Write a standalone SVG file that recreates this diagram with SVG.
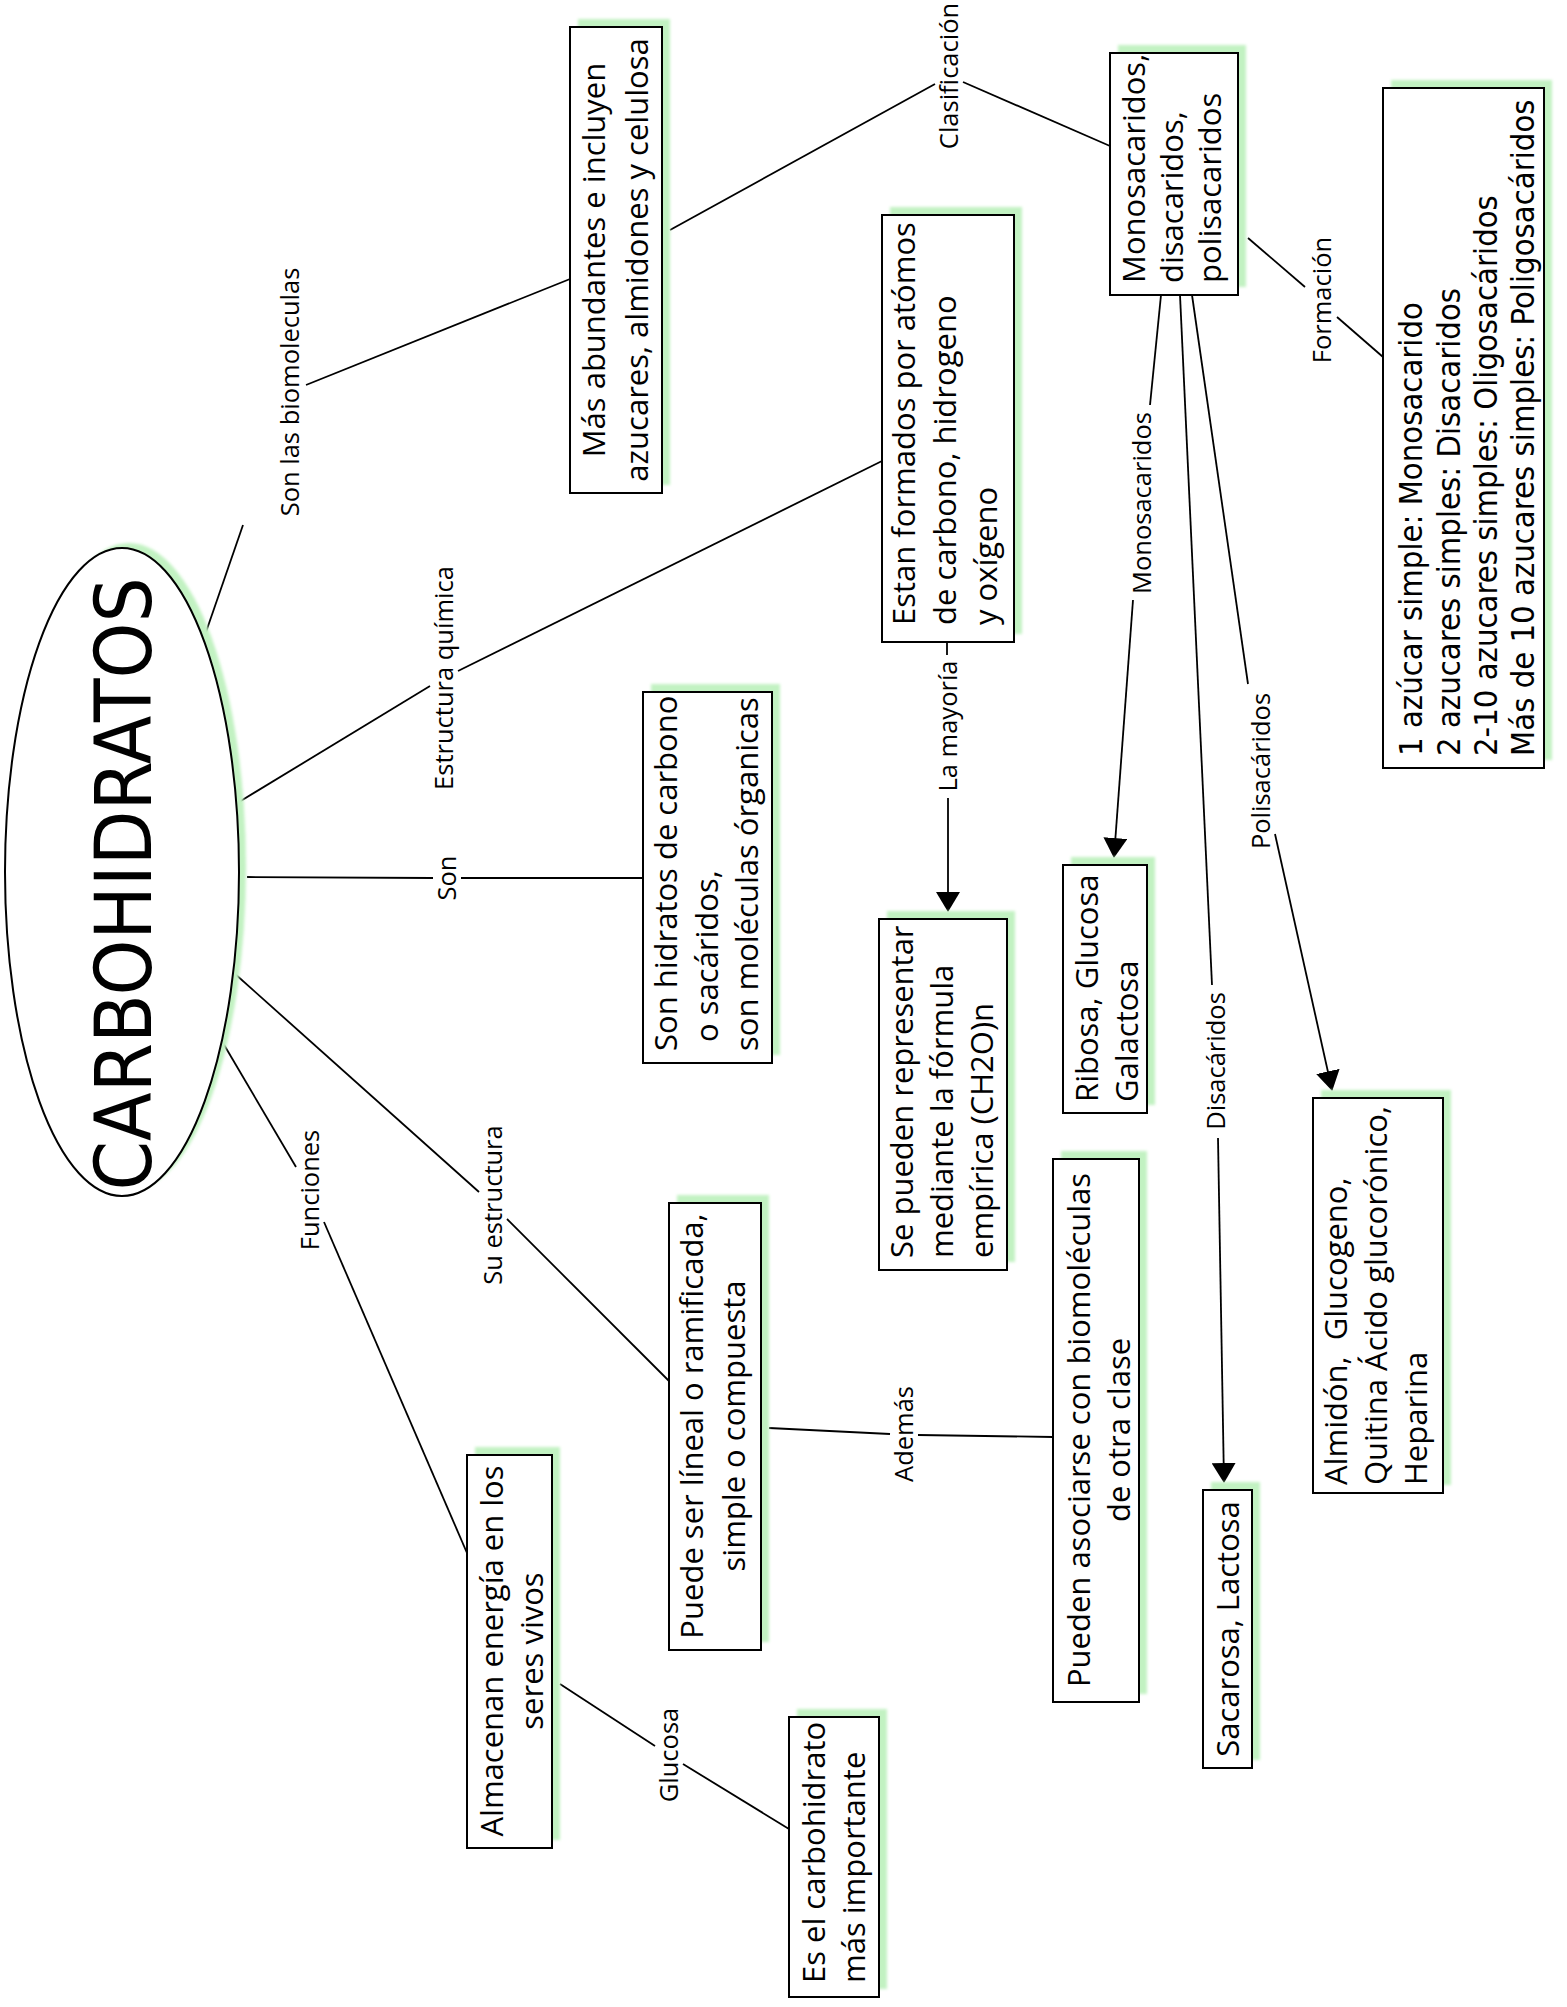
<svg xmlns="http://www.w3.org/2000/svg" width="1567" height="2007" viewBox="0 0 1567 2007">
<defs>
<filter id="soft" x="-10%" y="-10%" width="120%" height="120%"><feGaussianBlur stdDeviation="1.5"/></filter>
<marker id="arrow" markerUnits="userSpaceOnUse" markerWidth="20" markerHeight="24" viewBox="0 0 20 24" refX="19" refY="12" orient="auto"><path d="M0,0 L20,12 L0,24 z" fill="#000"/></marker>
</defs>
<style>
.box{fill:#fff;stroke:#000;stroke-width:2}
.sh{fill:#c2f2c2;filter:url(#soft)}
.t{font-family:"Open Sans","Noto Sans","Liberation Sans",sans-serif;font-size:31px;fill:#000}
.f{font-family:"DejaVu Sans Condensed","DejaVu Sans","Liberation Sans",sans-serif;font-size:32.5px;fill:#000}
.lb{font-family:"Open Sans","Noto Sans","Liberation Sans",sans-serif;font-size:25.5px;fill:#000}
.cn line{stroke:#000;stroke-width:1.8;fill:none}
.ar{marker-end:url(#arrow)}
</style>
<rect width="1567" height="2007" fill="#fff"/>

<g id="connectors" class="cn">
<line x1="206" y1="632" x2="243" y2="525"/>
<line x1="306" y1="385" x2="570" y2="279"/>
<line x1="670" y1="230" x2="935" y2="84"/>
<line x1="963" y1="82" x2="1110" y2="146"/>
<line x1="239" y1="802" x2="430" y2="686"/>
<line x1="458" y1="671" x2="882" y2="461"/>
<line x1="247" y1="877" x2="433" y2="878"/>
<line x1="461" y1="878" x2="643" y2="878"/>
<line x1="234" y1="973" x2="479" y2="1192"/>
<line x1="507" y1="1219" x2="669" y2="1381"/>
<line x1="223" y1="1043" x2="296" y2="1167"/>
<line x1="324" y1="1222" x2="467" y2="1553"/>
<line x1="769" y1="1428" x2="890" y2="1434"/>
<line x1="918" y1="1435" x2="1053" y2="1437"/>
<line x1="560" y1="1684" x2="655" y2="1746"/>
<line x1="683" y1="1764" x2="789" y2="1829"/>
<line x1="947" y1="642" x2="947" y2="655"/>
<line class="ar" x1="948" y1="798" x2="948" y2="911"/>
<line x1="1161" y1="295" x2="1150" y2="405"/>
<line class="ar" x1="1133" y1="600" x2="1114" y2="857"/>
<line x1="1180" y1="295" x2="1212" y2="985"/>
<line class="ar" x1="1218" y1="1138" x2="1224" y2="1482"/>
<line x1="1192" y1="295" x2="1248" y2="684"/>
<line class="ar" x1="1275" y1="834" x2="1332" y2="1090"/>
<line x1="1248" y1="238" x2="1305" y2="287"/>
<line x1="1337" y1="317" x2="1383" y2="357"/>
</g>

<g id="labels" class="lb">
<text transform="translate(299,392) rotate(-90)" text-anchor="middle">Son las biomoleculas</text>
<text transform="translate(958,76) rotate(-90)" text-anchor="middle">Clasificación</text>
<text transform="translate(453,678) rotate(-90)" text-anchor="middle">Estructura química</text>
<text transform="translate(456,878) rotate(-90)" text-anchor="middle">Son</text>
<text transform="translate(502,1205) rotate(-90)" text-anchor="middle">Su estructura</text>
<text transform="translate(319,1190) rotate(-90)" text-anchor="middle">Funciones</text>
<text transform="translate(913,1434) rotate(-90)" text-anchor="middle">Además</text>
<text transform="translate(678,1755) rotate(-90)" text-anchor="middle">Glucosa</text>
<text transform="translate(957,726) rotate(-90)" text-anchor="middle">La mayoría</text>
<text transform="translate(1151,503) rotate(-90)" text-anchor="middle">Monosacaridos</text>
<text transform="translate(1225,1061) rotate(-90)" text-anchor="middle">Disacáridos</text>
<text transform="translate(1270,771) rotate(-90)" text-anchor="middle">Polisacáridos</text>
<text transform="translate(1331,300) rotate(-90)" text-anchor="middle">Formación</text>
</g>

<g id="carbohidratos">
<ellipse class="sh" cx="129" cy="867" rx="117" ry="324"/>
<ellipse cx="122" cy="872" rx="117" ry="324" fill="#fff" stroke="#000" stroke-width="2"/>
<text transform="translate(151,884) rotate(-90)" text-anchor="middle" style="font-family:'DejaVu Sans Condensed','DejaVu Sans',sans-serif;font-size:79px">CARBOHIDRATOS</text>
</g>

<g id="n-abundantes">
<rect class="sh" x="578" y="19" width="92" height="466"/>
<rect class="box" x="570" y="27" width="92" height="466"/>
<text class="t" transform="translate(605,260) rotate(-90)" text-anchor="middle"><tspan x="0" y="0">Más abundantes e incluyen</tspan><tspan x="0" y="43">azucares, almidones y celulosa</tspan></text>
</g>

<g id="n-formados">
<rect class="sh" x="890" y="207" width="132" height="427"/>
<rect class="box" x="882" y="215" width="132" height="427"/>
<text class="t" transform="translate(915,625) rotate(-90)"><tspan x="0" y="0">Estan formados por atómos</tspan><tspan x="0" y="41">de carbono, hidrogeno</tspan><tspan x="0" y="82">y oxígeno</tspan></text>
</g>

<g id="n-hidratos">
<rect class="sh" x="651" y="684" width="129" height="371"/>
<rect class="box" x="643" y="692" width="129" height="371"/>
<text class="t" transform="translate(677,1051) rotate(-90)"><tspan x="0" y="0">Son hidratos de carbono</tspan><tspan x="9" y="41">o sacáridos,</tspan><tspan x="0" y="81">son moléculas órganicas</tspan></text>
</g>

<g id="n-formula">
<rect class="sh" x="887" y="911" width="128" height="351"/>
<rect class="box" x="879" y="919" width="128" height="351"/>
<text class="t" transform="translate(913,1258) rotate(-90)"><tspan x="0" y="0">Se pueden representar</tspan><tspan x="0" y="40">mediante la fórmula</tspan><tspan x="0" y="80">empírica (CH2O)n</tspan></text>
</g>

<g id="n-ribosa">
<rect class="sh" x="1071" y="857" width="84" height="248"/>
<rect class="box" x="1063" y="865" width="84" height="248"/>
<text class="t" transform="translate(1098,1102) rotate(-90)"><tspan x="0" y="0">Ribosa, Glucosa</tspan><tspan x="0" y="40">Galactosa</tspan></text>
</g>

<g id="n-asociarse">
<rect class="sh" x="1061" y="1151" width="86" height="543"/>
<rect class="box" x="1053" y="1159" width="86" height="543"/>
<text class="t" transform="translate(1090,1430) rotate(-90)" text-anchor="middle"><tspan x="0" y="0">Pueden asociarse con biomoléculas</tspan><tspan x="0" y="40">de otra clase</tspan></text>
</g>

<g id="n-lineal">
<rect class="sh" x="677" y="1195" width="92" height="447"/>
<rect class="box" x="669" y="1203" width="92" height="447"/>
<text class="t" transform="translate(703,1426) rotate(-90)" text-anchor="middle"><tspan x="0" y="0">Puede ser líneal o ramificada,</tspan><tspan x="0" y="42">simple o compuesta</tspan></text>
</g>

<g id="n-almacenan">
<rect class="sh" x="475" y="1447" width="85" height="393"/>
<rect class="box" x="467" y="1455" width="85" height="393"/>
<text class="t" transform="translate(503,1651) rotate(-90)" text-anchor="middle"><tspan x="0" y="0">Almacenan energía en los</tspan><tspan x="0" y="40">seres vivos</tspan></text>
</g>

<g id="n-importante">
<rect class="sh" x="797" y="1709" width="90" height="280"/>
<rect class="box" x="789" y="1717" width="90" height="280"/>
<text class="t" transform="translate(825,1983) rotate(-90)"><tspan x="0" y="0">Es el carbohidrato</tspan><tspan x="0" y="40">más importante</tspan></text>
</g>

<g id="n-clases">
<rect class="sh" x="1118" y="45" width="128" height="242"/>
<rect class="box" x="1110" y="53" width="128" height="242"/>
<text class="t" transform="translate(1145,283) rotate(-90)"><tspan x="0" y="0">Monosacaridos,</tspan><tspan x="0" y="38">disacaridos,</tspan><tspan x="0" y="76">polisacaridos</tspan></text>
</g>

<g id="n-formacion">
<rect class="sh" x="1391" y="80" width="161" height="680"/>
<rect class="box" x="1383" y="88" width="161" height="680"/>
<text class="f" transform="translate(1422,756) rotate(-90)"><tspan x="0" y="0">1 azúcar simple: Monosacarido</tspan><tspan x="0" y="38">2 azucares simples: Disacaridos</tspan><tspan x="0" y="75">2-10 azucares simples: Oligosacáridos</tspan><tspan x="0" y="112">Más de 10 azucares simples: Poligosacáridos</tspan></text>
</g>

<g id="n-sacarosa">
<rect class="sh" x="1211" y="1482" width="49" height="278"/>
<rect class="box" x="1203" y="1490" width="49" height="278"/>
<text class="t" transform="translate(1239,1629) rotate(-90)" text-anchor="middle">Sacarosa, Lactosa</text>
</g>

<g id="n-almidon">
<rect class="sh" x="1321" y="1090" width="130" height="395"/>
<rect class="box" x="1313" y="1098" width="130" height="395"/>
<text class="t" transform="translate(1347,1485) rotate(-90)"><tspan x="0" y="0">Almidón,&#160; Glucogeno,</tspan><tspan x="0" y="40">Quitina Ácido glucorónico,</tspan><tspan x="0" y="80">Heparina</tspan></text>
</g>
</svg>
